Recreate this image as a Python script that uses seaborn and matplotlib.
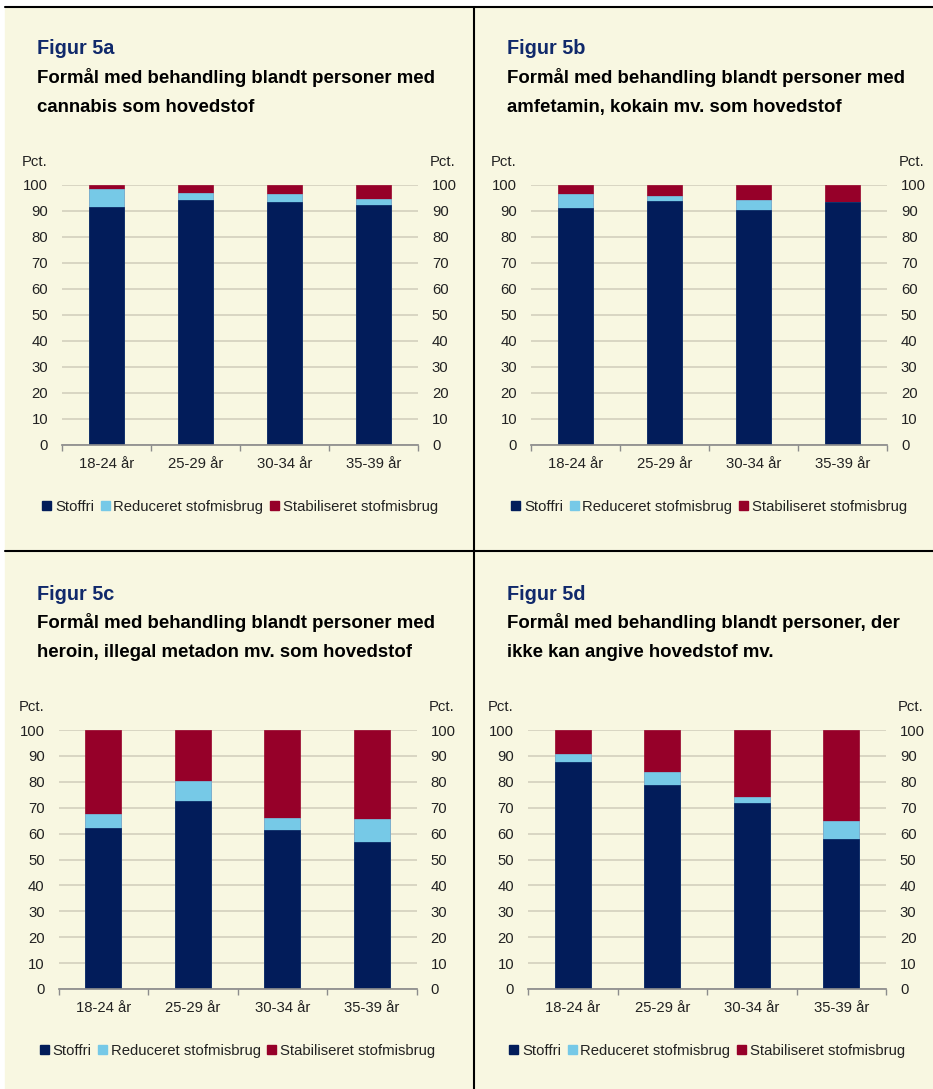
import numpy as np
import pandas as pd
import matplotlib.pyplot as plt
import seaborn as sns
from matplotlib.patches import Patch, Rectangle
from matplotlib.lines import Line2D

# data (pct.)
ages = ["18-24 år", "25-29 år", "30-34 år", "35-39 år"]
series = ["Stoffri", "Reduceret stofmisbrug", "Stabiliseret stofmisbrug"]

stoffri_a = [91.7, 94.2, 93.3, 92.4]
reduceret_a = [6.6, 2.9, 3.3, 2.2]
stabil_a = [1.7, 2.9, 3.4, 5.4]

stoffri_b = [91.1, 93.7, 90.4, 93.3]
reduceret_b = [5.5, 2.0, 3.7, 0.0]
stabil_b = [3.4, 4.3, 5.9, 6.7]

stoffri_c = [62.2, 72.4, 61.2, 56.8]
reduceret_c = [5.4, 7.9, 4.8, 8.9]
stabil_c = [32.4, 19.7, 34.0, 34.3]

stoffri_d = [87.6, 78.6, 72.0, 58.1]
reduceret_d = [3.3, 5.3, 2.2, 6.9]
stabil_d = [9.1, 16.1, 25.8, 35.0]

titles = ["Figur 5a", "Figur 5b", "Figur 5c", "Figur 5d"]
subtitles = [
    "Formål med behandling blandt personer med\ncannabis som hovedstof",
    "Formål med behandling blandt personer med\namfetamin, kokain mv. som hovedstof",
    "Formål med behandling blandt personer med\nheroin, illegal metadon mv. som hovedstof",
    "Formål med behandling blandt personer, der\nikke kan angive hovedstof mv.",
]

colors = ["#021C5A", "#76C9E7", "#960029"]
cream = "#F8F7E1"
W, H = 933, 1089

sns.set_theme(style="white")
plt.rcParams["font.family"] = ["Liberation Sans", "DejaVu Sans"]

fig = plt.figure(figsize=(W / 100, H / 100), dpi=100, facecolor="white")

# panel background and frame lines
fig.patches.append(Rectangle((5 / W, 0), (W - 5) / W, (H - 7) / H,
                             transform=fig.transFigure, color=cream, zorder=-10))
fig.lines.append(Line2D([5 / W, 1], [1 - 7 / H, 1 - 7 / H], transform=fig.transFigure, color="black", lw=1.5))
fig.lines.append(Line2D([5 / W, 1], [1 - 551 / H, 1 - 551 / H], transform=fig.transFigure, color="black", lw=1.5))
fig.lines.append(Line2D([474 / W, 474 / W], [0, 1 - 7 / H], transform=fig.transFigure, color="black", lw=1.5))


def panel(rect, stoffri, reduceret, stabil, title, subtitle, tx, ty):
    left, top, width, bottom = rect
    ax = fig.add_axes([left / W, 1 - bottom / H, width / W, (bottom - top) / H])
    ax.set_facecolor(cream)
    df = pd.DataFrame({"age": ages, "s": stoffri, "r": reduceret, "t": stabil})
    df["sr"] = df["s"] + df["r"]
    df["srt"] = df["sr"] + df["t"]
    for col, c in zip(["srt", "sr", "s"], colors[::-1]):
        sns.barplot(data=df, x="age", y=col, order=ages, color=c, width=0.4,
                    saturation=1, edgecolor=c, linewidth=0.5, ax=ax, zorder=3)
    ax.set_xlim(-0.5, 3.5)
    ax.set_ylim(0, 100)
    ax.set_yticks(range(0, 101, 10))
    ax.yaxis.grid(True, color="#D6D3C0", lw=1.3, zorder=0)
    ax.set_axisbelow(True)
    ax.set_xlabel("")
    ax.set_ylabel("")
    for s in ["top", "left", "right"]:
        ax.spines[s].set_visible(False)
    ax.spines["bottom"].set_color("#8C8C8C")
    ax.spines["bottom"].set_zorder(4)
    ax.set_xticks(np.arange(-0.5, 4, 1), minor=True)
    ax.tick_params(axis="x", which="minor", length=4, color="#8C8C8C", direction="out", bottom=True)
    ax.tick_params(axis="x", which="major", length=0, labelsize=10.7, pad=9, colors="#222222")
    ax.tick_params(axis="y", length=0, labelsize=10.7, labelleft=True, labelright=True,
                   pad=10, colors="#222222")
    ax.text(-0.04, 1.06, "Pct.", transform=ax.transAxes, ha="right", va="bottom",
            fontsize=10.7, color="#222222")
    ax.text(1.033, 1.06, "Pct.", transform=ax.transAxes, ha="left", va="bottom",
            fontsize=10.7, color="#222222")
    handles = [Patch(facecolor=c, edgecolor=c) for c in colors]
    ax.legend(handles, series, loc="upper center", bbox_to_anchor=(0.5, -0.16), ncol=3,
              frameon=False, fontsize=10.7, handlelength=0.6, handleheight=0.6,
              handletextpad=0.25, columnspacing=0.45, labelcolor="#222222")
    fig.text(tx / W, 1 - ty / H, title, fontsize=14.3, fontweight="bold", color="#10296B",
             va="center", ha="left")
    fig.text(tx / W, 1 - (ty + 19) / H, subtitle, fontsize=13.4, fontweight="bold",
             color="black", va="top", ha="left", linespacing=1.9)
    return ax


panel((62, 185, 356, 445), stoffri_a, reduceret_a, stabil_a, titles[0], subtitles[0], 37, 49)
panel((531, 185, 356, 445), stoffri_b, reduceret_b, stabil_b, titles[1], subtitles[1], 507, 49)
panel((58.5, 730, 358, 989), stoffri_c, reduceret_c, stabil_c, titles[2], subtitles[2], 37, 594)
panel((528, 730, 358, 989), stoffri_d, reduceret_d, stabil_d, titles[3], subtitles[3], 507, 594)

plt.savefig("out.png", dpi=100, facecolor="white")
